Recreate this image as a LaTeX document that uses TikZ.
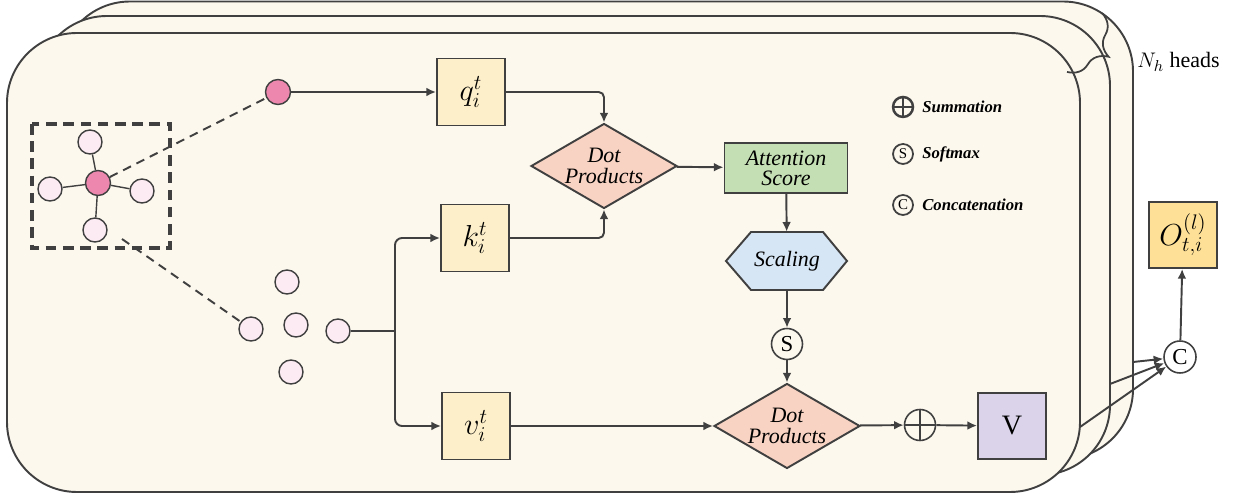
\documentclass[tikz,border=0pt]{standalone}
\usepackage{fontspec}
\setmainfont{Liberation Serif}[BoldFont={Liberation Serif Bold},ItalicFont={Liberation Serif Italic},BoldItalicFont={Liberation Serif Bold Italic}]
\usepackage{tikz}
\usetikzlibrary{shapes.geometric,decorations.pathreplacing,arrows.meta}

\definecolor{linegray}{HTML}{404040}
\definecolor{cream}{HTML}{FDF8EE}
\definecolor{boxyellow}{HTML}{FDEFC9}
\definecolor{outgold}{HTML}{FEE197}
\definecolor{dpfill}{HTML}{F8D3C3}
\definecolor{scorefill}{HTML}{C5DFB4}
\definecolor{scalefill}{HTML}{D7E6F4}
\definecolor{vfill}{HTML}{DAD3EA}
\definecolor{hubpink}{HTML}{ED87AD}
\definecolor{satpink}{HTML}{FCEBF2}

\begin{document}
\begin{tikzpicture}[>={Latex[length=5.5pt,width=5pt]},x=0.02cm,y=-0.02cm,
    layer/.style={draw=linegray,line width=1.1pt,fill=cream,rounded corners=1.4cm},
    qkv/.style={draw=linegray,line width=1.1pt,fill=boxyellow,minimum width=1.36cm,minimum height=1.34cm,inner sep=0pt,font=\fontsize{18}{20}\selectfont},
    hub/.style={circle,draw=linegray,line width=0.8pt,fill=hubpink,minimum size=0.5cm,inner sep=0pt},
    sat/.style={circle,draw=linegray,line width=0.8pt,fill=satpink,minimum size=0.48cm,inner sep=0pt},
    dprod/.style={diamond,aspect=1.72,draw=linegray,line width=1.1pt,fill=dpfill,minimum width=2.92cm,minimum height=1.7cm,inner sep=0pt,align=center,font=\itshape\fontsize{12.5}{11.5}\selectfont},
    op/.style={circle,draw=linegray,line width=0.9pt,fill=cream,minimum size=0.62cm,inner sep=0pt,font=\fontsize{13}{13}\selectfont},
    lsym/.style={circle,draw=linegray,line width=1pt,minimum size=0.4cm,inner sep=0pt,font=\fontsize{8.5}{9}\selectfont},
    legend/.style={anchor=west,inner sep=0pt,font=\bfseries\itshape\fontsize{9.5}{11}\selectfont},
    flow/.style={->,draw=linegray,line width=1.1pt},
    dashlink/.style={draw=linegray,line width=1.1pt,dash pattern=on 5pt off 3.5pt}]
    \useasboundingbox (0,0) rectangle (1237,499);
    % stacked heads
    \draw[layer] (60,1.5) rectangle (1133,459);
    \draw[layer] (37,16) rectangle (1110,475);
    \draw[layer] (7,33) rectangle (1080,492);
    \draw[linegray,line width=1pt,decorate,decoration={brace,amplitude=0.56cm}] (1102,13) -- (1067,72);
    \node[anchor=west,inner sep=0pt,font=\fontsize{12.5}{14}\selectfont] (nh) at (1137,62) {$N_h$ heads};

    % neighbourhood graph
    \draw[dashlink,line width=1.8pt,dash pattern=on 6pt off 3.8pt] (32,124) rectangle (170,248);
    \node[hub] (hb) at (98,183) {};
    \node[sat] (sa) at (90,142) {};
    \node[sat] (sb) at (50,189) {};
    \node[sat] (sc) at (142,191) {};
    \node[sat] (sd) at (95,230) {};
    \foreach \s in {sa,sb,sc,sd}
        \draw[linegray,line width=0.8pt] (hb) -- (\s);
    \node[hub] (src) at (278,92) {};
    \node[sat] (n1) at (251,329) {};
    \node[sat] (n2) at (287,282) {};
    \node[sat] (n3) at (296,325) {};
    \node[sat] (n4) at (291,372) {};
    \node[sat] (n5) at (338,331) {};
    \coordinate (zoomend) at (122,239);
    \draw[dashlink] (hb) -- (src);
    \draw[dashlink] (zoomend) -- (n1);

    % query, key, value
    \node[qkv] (q) at (471,92) {$q_i^t$};
    \node[qkv] (k) at (475,238) {$k_i^t$};
    \node[qkv] (v) at (476,426) {$v_i^t$};
    \coordinate (jn) at (395,331);
    \draw[flow] (src) -- (q);
    \draw[linegray,line width=1.1pt] (n5) -- (jn);
    \draw[flow,rounded corners=4pt] (jn) |- (k.west);
    \draw[flow,rounded corners=4pt] (jn) |- (v.west);

    % attention
    \node[dprod] (dp1) at (604,166) {Dot\\Products};
    \node[draw=linegray,line width=1.1pt,fill=scorefill,minimum width=2.46cm,minimum height=1cm,inner sep=0pt,align=center,font=\itshape\fontsize{12.5}{11.5}\selectfont] (att) at (786,168) {Attention\\Score};
    \draw[draw=linegray,line width=1.1pt,fill=scalefill] (726,261) -- (751,232) -- (823,232) -- (847,261) -- (823,290) -- (751,290) -- cycle;
    \node[minimum width=2.42cm,minimum height=1.16cm,inner sep=0pt,font=\itshape\fontsize{12.5}{13}\selectfont] (scl) at (787,261) {Scaling};
    \node[op] (smax) at (787,344) {S};
    \node[dprod] (dp2) at (787,426) {Dot\\Products};
    \node[op] (sum) at (920,425) {};
    \draw[linegray,line width=0.9pt] (sum.north) -- (sum.south) (sum.west) -- (sum.east);
    \node[draw=linegray,line width=1.1pt,fill=vfill,minimum width=1.36cm,minimum height=1.32cm,inner sep=0pt,font=\fontsize{16}{16}\selectfont] (val) at (1012,426) {V};
    \draw[flow,rounded corners=3pt] (q.east) -| (dp1.north);
    \draw[flow,rounded corners=3pt] (k.east) -| (dp1.south);
    \draw[flow] (dp1) -- (att);
    \draw[flow] (att) -- (scl);
    \draw[flow] (scl) -- (smax);
    \draw[flow] (smax) -- (dp2);
    \draw[flow] (v) -- (dp2);
    \draw[flow] (dp2) -- (sum);
    \draw[flow] (sum) -- (val);

    % legend
    \node[lsym,line width=1.4pt] (lsum) at (903,107) {};
    \draw[linegray,line width=1.4pt] (lsum.north) -- (lsum.south) (lsum.west) -- (lsum.east);
    \node[legend] at (922,107) {Summation};
    \node[lsym] (lsm) at (903,154) {S};
    \node[legend] at (922,154) {Softmax};
    \node[lsym] (lcat) at (903,205) {C};
    \node[legend] at (922,205) {Concatenation};

    % concatenation of heads
    \node[op,fill=white,minimum size=0.64cm] (cat) at (1180,357) {C};
    \node[draw=linegray,line width=1.1pt,fill=outgold,minimum width=1.36cm,minimum height=1.32cm,inner sep=0pt,font=\fontsize{18}{20}\selectfont] (out) at (1183,235) {$O_{t,i}^{(l)}$};
    \coordinate (h1) at (1080,427);
    \coordinate (h2) at (1110,384);
    \coordinate (h3) at (1133,362);
    \foreach \h in {h1,h2,h3}
        \draw[flow] (\h) -- (cat);
    \draw[flow] (cat) -- (out);
\end{tikzpicture}
\end{document}
